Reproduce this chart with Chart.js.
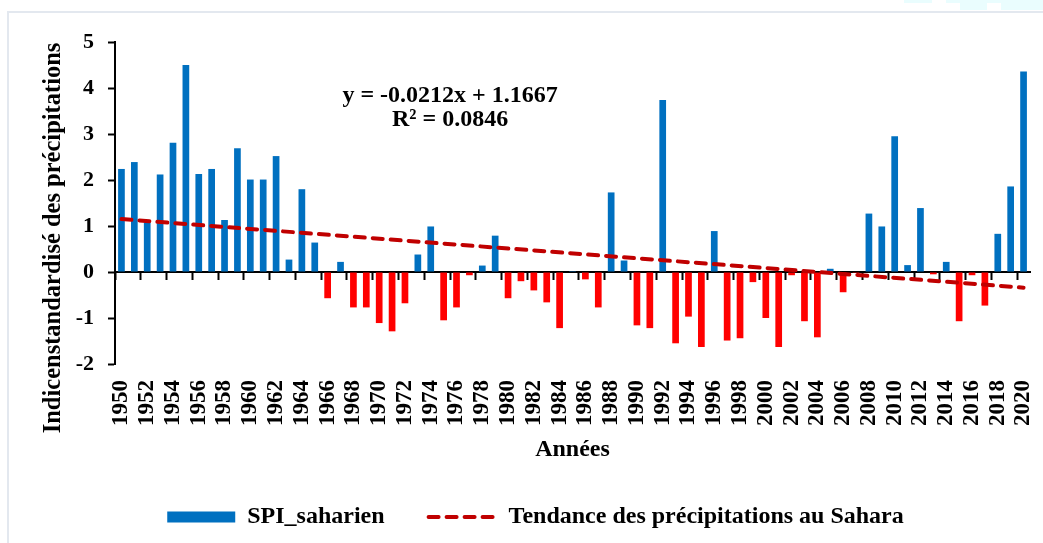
<!DOCTYPE html>
<html>
<head>
<meta charset="utf-8">
<script src="https://cdn.jsdelivr.net/npm/chart.js@4"></script>
<style>
  body { margin: 0; background: #fff; }
  #frame {
    position: absolute; left: 7px; top: 11px;
    width: 1034px; height: 530px;
    border-left: 2px solid #e3e8ef; border-top: 2px solid #e3e8ef;
  }
  .speck { position: absolute; background: #eafdfe; }
</style>
</head>
<body>
<div class="speck" style="left:904px;top:0;width:28px;height:3px"></div>
<div class="speck" style="left:946px;top:0;width:97px;height:3px"></div>
<div class="speck" style="left:960px;top:3px;width:27px;height:7px"></div>
<div class="speck" style="left:1001px;top:3px;width:42px;height:7px"></div>
<div id="frame"><canvas id="chart"></canvas></div>
<script>
const years = [];
for (let y = 1950; y <= 2020; y++) years.push(String(y));

// SPI values, 1950 -> 2020
const spi = [
  2.24, 2.39, 1.08, 2.12, 2.81, 4.50, 2.13, 2.24, 1.13, 2.69,
  2.01, 2.01, 2.52, 0.27, 1.80, 0.64, -0.57, 0.22, -0.77, -0.77,
  -1.11, -1.29, -0.68, 0.38, 0.99, -1.05, -0.77, -0.07, 0.14, 0.79,
  -0.57, -0.20, -0.40, -0.66, -1.22, 0.02, -0.16, -0.77, 1.73, 0.25,
  -1.16, -1.22, 3.74, -1.55, -0.97, -1.63, 0.89, -1.49, -1.44, -0.22,
  -1.00, -1.63, -0.07, -1.07, -1.42, 0.07, -0.44, -0.02, 1.27, 0.99,
  2.95, 0.15, 1.39, -0.05, 0.22, -1.07, -0.07, -0.73, 0.83, 1.86,
  4.36
];

// trend line ends as drawn on the chart
const trendStart = 1.15;
const trendEnd = -0.34;
const trend = years.map((_, i) => i === 0 ? trendStart : (i === years.length - 1 ? trendEnd : null));

const eqLines = ['y = -0.0212x + 1.1667', 'R² = 0.0846'];
const yTitle = 'Indicenstandardisé des précipitations';

const blue = '#0070C0';
const red = '#FF0000';
const darkRed = '#C00000';
const serif = '"Liberation Serif", "Times New Roman", serif';

// equation of the trend + y axis title (excel puts it lower than centre)
const extraText = {
  id: 'extraText',
  afterDraw(chart) {
    const {ctx, scales} = chart;
    const x = scales.x.getPixelForValue(25.5);
    ctx.save();
    ctx.font = 'bold 24px ' + serif;
    ctx.fillStyle = '#000';
    ctx.textAlign = 'center';
    ctx.textBaseline = 'middle';
    ctx.fillText(eqLines[0], x, scales.y.getPixelForValue(3.84));
    ctx.fillText(eqLines[1], x, scales.y.getPixelForValue(3.30));

    ctx.font = 'bold 24.5px ' + serif;
    ctx.translate(scales.y.left + 13, scales.y.getPixelForValue(0.74));
    ctx.rotate(-Math.PI / 2);
    ctx.fillText(yTitle, 0, 0);
    ctx.restore();
  }
};

new Chart(document.getElementById('chart'), {
  type: 'bar',
  data: {
    labels: years,
    datasets: [{
      label: 'SPI_saharien',
      data: spi,
      backgroundColor: (c) => c.raw >= 0 ? blue : red,
      categoryPercentage: 1,
      barPercentage: 0.52,
      order: 1
    },
    {
      type: 'line',
      label: 'Tendance des précipitations au Sahara',
      data: trend,
      spanGaps: true,
      borderColor: darkRed,
      borderWidth: 4,
      borderDash: [10, 8],
      borderCapStyle: 'round',
      pointRadius: 0,
      order: 0
    }]
  },
  options: {
    responsive: true,
    maintainAspectRatio: false,
    animation: false,
    layout: { padding: { left: 32, right: 13, top: 29, bottom: 4 } },
    plugins: {
      tooltip: { enabled: false },
      legend: {
        position: 'bottom',
        labels: {
          usePointStyle: true,
          pointStyleWidth: 68,
          boxHeight: 11,
          padding: 44,
          color: '#000',
          font: { family: serif, size: 24, weight: 'bold' },
          generateLabels: (chart) => [
            { text: 'SPI_saharien', datasetIndex: 0, fillStyle: blue, strokeStyle: blue,
              lineWidth: 0, pointStyle: 'rect', fontColor: '#000' },
            { text: 'Tendance des précipitations au Sahara', datasetIndex: 1, fillStyle: darkRed,
              strokeStyle: darkRed, lineWidth: 4, lineDash: [10, 8], lineCap: 'round',
              pointStyle: 'line', fontColor: '#000' }
          ]
        }
      }
    },
    scales: {
      x: {
        position: 'bottom',
        grid: { display: false, drawTicks: false },
        border: { display: false },
        ticks: {
          autoSkip: false,
          minRotation: 90,
          maxRotation: 90,
          padding: 16,
          color: '#000',
          font: { family: serif, size: 23, weight: 'bold' },
          callback: function (v, i) { return i % 2 === 0 ? this.getLabelForValue(v) : ''; }
        },
        title: {
          display: true,
          text: 'Années',
          color: '#000',
          font: { family: serif, size: 24, weight: 'bold' },
          padding: { top: 0, bottom: -3 }
        },
        afterFit: (s) => { s.height = 97; s.paddingLeft = 0; s.paddingRight = 0; }
      },
      x0: {
        type: 'category',
        labels: years,
        position: { y: 0 },
        offset: true,
        grid: {
          offset: true,
          drawOnChartArea: false,
          drawTicks: true,
          tickLength: 7,
          tickWidth: 2,
          tickColor: (c) => c.index % 2 === 0 ? '#000' : 'rgba(0,0,0,0)'
        },
        border: { color: '#000', width: 2 },
        ticks: { display: false }
      },
      y: {
        min: -2,
        max: 5,
        ticks: {
          stepSize: 1,
          padding: 14,
          color: '#000',
          font: { family: serif, size: 22, weight: 'bold' }
        },
        grid: {
          drawOnChartArea: false,
          drawTicks: true,
          tickLength: 7,
          tickWidth: 2,
          color: '#000'
        },
        border: { color: '#000', width: 2 },
        afterFit: (s) => { s.width = 74; }
      }
    }
  },
  plugins: [extraText]
});
</script>
</body>
</html>
